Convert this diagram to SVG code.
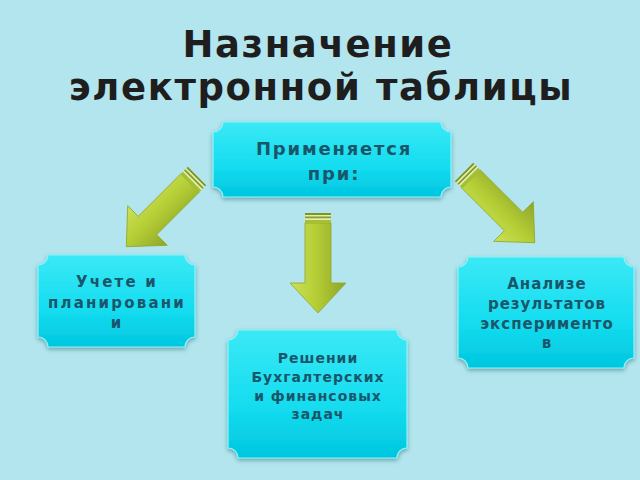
<svg xmlns="http://www.w3.org/2000/svg" width="640" height="480" viewBox="0 0 640 480">
<defs>
<linearGradient id="nodeGrad" x1="0" y1="0" x2="0" y2="1">
<stop offset="0" stop-color="#3be9f6"/>
<stop offset="0.6" stop-color="#14dcef"/>
<stop offset="1" stop-color="#00c6e0"/>
</linearGradient>
<linearGradient id="arrowGrad" x1="0" y1="0" x2="1" y2="0">
<stop offset="0" stop-color="#cde058"/>
<stop offset="0.45" stop-color="#b6cf36"/>
<stop offset="1" stop-color="#8ea528"/>
</linearGradient>
<filter id="shadow" x="-10%" y="-10%" width="120%" height="130%">
<feDropShadow dx="0" dy="2" stdDeviation="2" flood-color="#2a6f7a" flood-opacity="0.55"/>
</filter>
<g id="arrowShape">
<path d="M-13,10 L13,10 L13,70 L28,70 L0,100 L-28,70 L-13,70 Z" fill="url(#arrowGrad)" stroke="#8fa62c" stroke-width="0.8"/>
<rect x="-13" y="0" width="26" height="2" fill="#7f9526"/>
<rect x="-13" y="2" width="26" height="1.5" fill="#e6f0a0"/>
<rect x="-13" y="3.5" width="26" height="2" fill="#8aa02a"/>
<rect x="-13" y="5.5" width="26" height="1.5" fill="#e6f0a0"/>
<rect x="-13" y="7" width="26" height="3" fill="#a6bf33"/>
</g>
</defs>
<style>
.node{fill:url(#nodeGrad);stroke:#8ef3fa;stroke-width:1.2;filter:url(#shadow)}
.lbl{font-family:"DejaVu Sans",sans-serif;font-weight:bold;fill:#19566a;text-anchor:middle}
.title{font-family:"DejaVu Sans",sans-serif;font-weight:bold;fill:#1e1e1e;text-anchor:middle;font-size:37px;letter-spacing:1.6px}
</style>
<rect width="640" height="480" fill="#b3e5ee"/>
<g id="title">
<text class="title" x="318" y="57">Назначение</text>
<text class="title" x="321" y="100">электронной таблицы</text>
</g>
<g id="connectors">
<use href="#arrowShape" transform="translate(197,176) rotate(45)"/>
<use href="#arrowShape" transform="translate(318,213)"/>
<use href="#arrowShape" transform="translate(464,172) rotate(-45)"/>
</g>
<g id="node-top">
<path class="node" d="M223,122 L441,122 A10,10 0 0 0 451,132 L451,187 A10,10 0 0 0 441,197 L223,197 A10,10 0 0 0 213,187 L213,132 A10,10 0 0 0 223,122 Z"/>
<text class="lbl" x="334" y="155" font-size="18" letter-spacing="1.8">Применяется</text>
<text class="lbl" x="334" y="180" font-size="18" letter-spacing="1.8">при:</text>
</g>
<g id="node-left">
<path class="node" d="M48,255 L185,255 A10,10 0 0 0 195,265 L195,337 A10,10 0 0 0 185,347 L48,347 A10,10 0 0 0 38,337 L38,265 A10,10 0 0 0 48,255 Z"/>
<text class="lbl" x="117" y="287" font-size="15" letter-spacing="2.2">Учете и</text>
<text class="lbl" x="117" y="308" font-size="15" letter-spacing="2.2">планировани</text>
<text class="lbl" x="117" y="328" font-size="15" letter-spacing="2.2">и</text>
</g>
<g id="node-right">
<path class="node" d="M468,257 L624,257 A10,10 0 0 0 634,267 L634,358 A10,10 0 0 0 624,368 L468,368 A10,10 0 0 0 458,358 L458,267 A10,10 0 0 0 468,257 Z"/>
<text class="lbl" x="547" y="289" font-size="15" letter-spacing="1">Анализе</text>
<text class="lbl" x="547" y="309" font-size="15" letter-spacing="1">результатов</text>
<text class="lbl" x="547" y="329" font-size="15" letter-spacing="1">эксперименто</text>
<text class="lbl" x="547" y="348" font-size="15" letter-spacing="1">в</text>
</g>
<g id="node-bottom">
<path class="node" d="M238,330 L397,330 A10,10 0 0 0 407,340 L407,448 A10,10 0 0 0 397,458 L238,458 A10,10 0 0 0 228,448 L228,340 A10,10 0 0 0 238,330 Z"/>
<text class="lbl" x="318" y="363" font-size="14" letter-spacing="1">Решении</text>
<text class="lbl" x="318" y="382" font-size="14" letter-spacing="1">Бухгалтерских</text>
<text class="lbl" x="318" y="401" font-size="14" letter-spacing="1">и финансовых</text>
<text class="lbl" x="318" y="419" font-size="14" letter-spacing="1">задач</text>
</g>
</svg>
